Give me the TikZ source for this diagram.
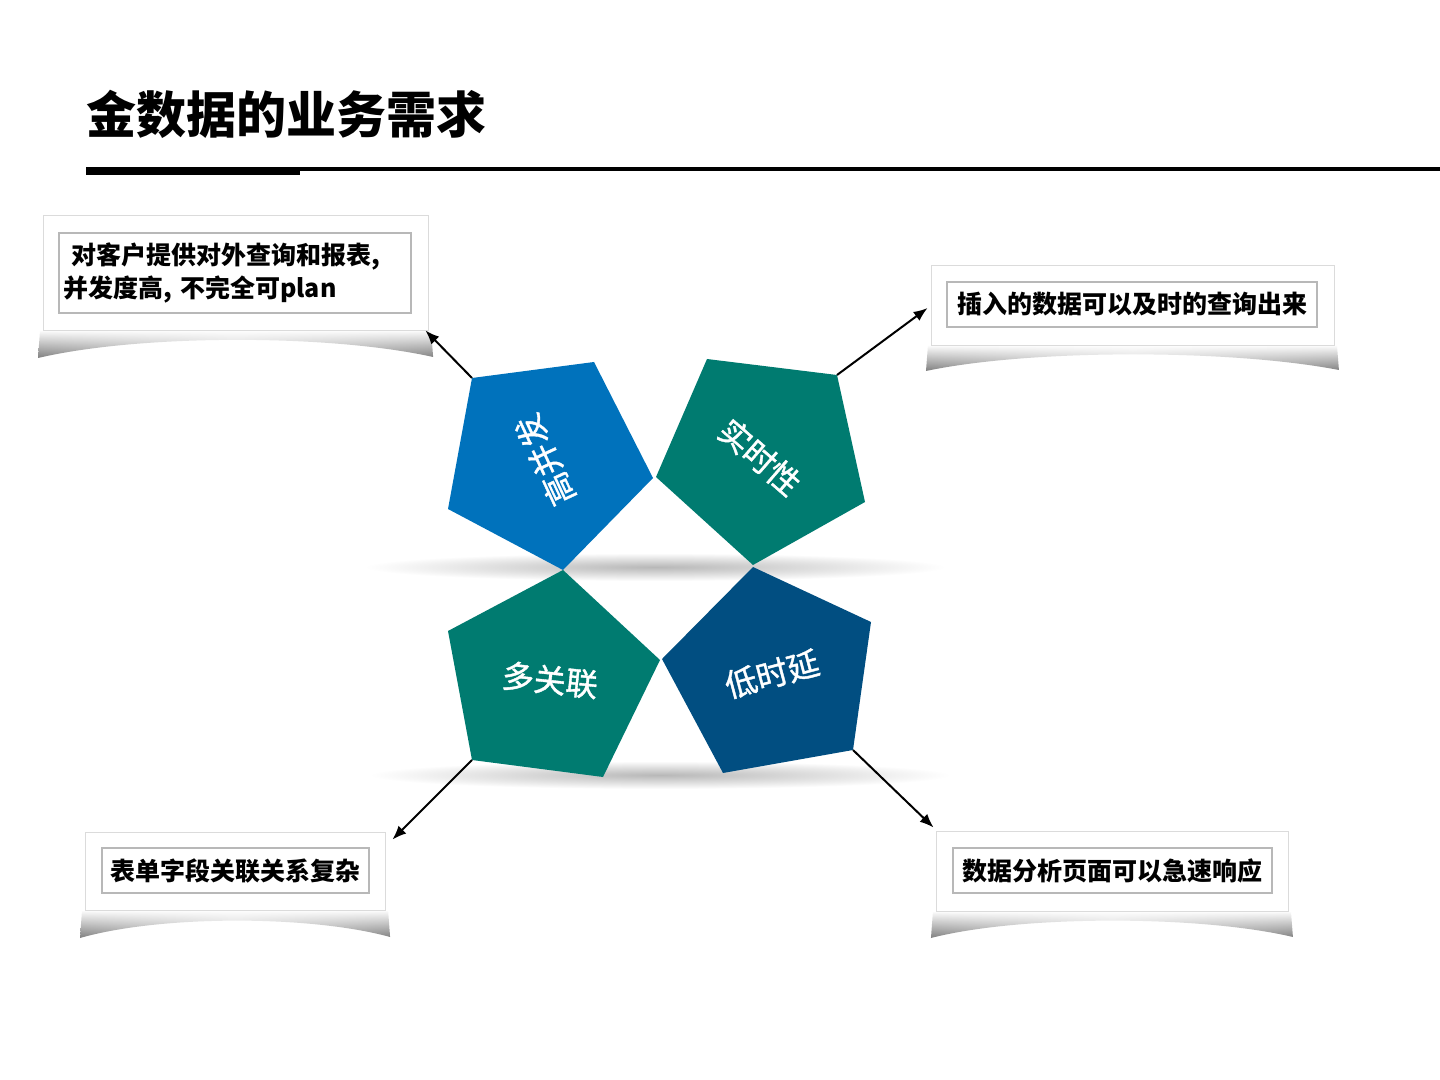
\documentclass[tikz,border=0pt]{standalone}
\usepackage{fontspec}
\newfontfamily\cjk{Noto Sans CJK SC}
\newfontfamily\cjkpent{Noto Sans CJK SC}[FakeBold=1.2]
\usetikzlibrary{arrows.meta,fadings}

\definecolor{gaoblue}{RGB}{0,114,188}
\definecolor{qingteal}{RGB}{0,123,112}
\definecolor{shenblue}{RGB}{1,78,129}

\tikzset{
  card/.style={draw=black!14, fill=white, inner sep=0pt},
  inbox/.style={draw=black!28, fill=white, line width=0.6pt, inner sep=0pt,
    font=\cjk\bfseries\fontsize{12.5}{16.5}\selectfont},
  penttext/.style={text=white, inner sep=0pt, font=\cjkpent\fontsize{16}{19}\selectfont},
  pointer/.style={-{Latex[length=7pt,width=5.5pt]}, line width=1pt},
  curl/.style={left color=black!50, right color=black!50, middle color=black!22, path fading=north},
}

\begin{document}
\begin{tikzpicture}[x=0.5pt, y=-0.5pt]
    \useasboundingbox (0,0) rectangle (1440,1080);
    \fill[white] (0,0) rectangle (1440,1080);
    % titre
    \node[anchor=base west, inner sep=0pt, font=\cjk\bfseries\fontsize{25}{30}\selectfont] (biaoti) at (86,134) {金数据的业务需求};
    \fill (86,167) rectangle (300,175);
    \fill (300,167) rectangle (1440,171);
    % ombres sous les pentagones
    \shade[inner color=black!28, outer color=white] (655,567) ellipse [x radius=145pt, y radius=7pt];
    \shade[inner color=black!28, outer color=white] (660,775) ellipse [x radius=145pt, y radius=7pt];
    % pentagones
    \fill[gaoblue] (472,378) coordinate (g1) -- (594,362) -- (653,478) -- (563,570) -- (448,509) -- cycle;
    \fill[qingteal] (707,359) -- (837,375) coordinate (s2) -- (865,502) -- (753,565) -- (656,477) -- cycle;
    \fill[qingteal] (563,570) -- (660,660) -- (603,777) -- (472,760) coordinate (d4) -- (448,631) -- cycle;
    \fill[shenblue] (753,567) -- (871,622) -- (853,750) coordinate (y3) -- (723,773) -- (662,659) -- cycle;
    \node[penttext, rotate=115] (gbf) at (545,460) {高并发};
    \node[penttext, rotate=-41] (ssx) at (760,457) {实时性};
    \node[penttext, rotate=-6] (dgl) at (550,680) {多关联};
    \node[penttext, rotate=15] (dsy) at (772,674) {低时延};
    % cartes : ombres
    \shade[curl] (40,330) -- (431,330) -- (433,357) .. controls (330,334) and (140,334) .. (38,358) -- cycle;
    \shade[curl] (928,345) -- (1337,345) -- (1339,370) .. controls (1230,349) and (1030,349) .. (926,371) -- cycle;
    \shade[curl] (82,910) -- (388,910) -- (390,937) .. controls (310,915) and (160,915) .. (80,938) -- cycle;
    \shade[curl] (933,911) -- (1291,911) -- (1293,937) .. controls (1200,915) and (1020,915) .. (931,938) -- cycle;
    % cartes
    \node[card, minimum width=192.5pt, minimum height=57.5pt] (ka) at (235.5,272.5) {};
    \node[inbox, minimum width=176pt, minimum height=40pt, text width=172pt, align=left] (ta) at (235,273)
      {\ 对客户提供对外查询和报表,\\并发度高, 不完全可plan};
    \node[card, minimum width=201.5pt, minimum height=40pt] (kb) at (1132.5,305) {};
    \node[inbox, minimum width=185pt, minimum height=22.5pt] (tb) at (1132,304.5) {插入的数据可以及时的查询出来};
    \node[card, minimum width=150pt, minimum height=39pt] (kc) at (235,871) {};
    \node[inbox, minimum width=133.5pt, minimum height=22.5pt] (tc) at (235.5,870.5) {表单字段关联关系复杂};
    \node[card, minimum width=176pt, minimum height=40pt] (kd) at (1112,871) {};
    \node[inbox, minimum width=159.5pt, minimum height=22.5pt] (td) at (1112.5,870.5) {数据分析页面可以急速响应};
    % fleches
    \draw[pointer] (g1) -- ([shift={(-3,0)}]ka.south east);
    \draw[pointer] (s2) -- ([shift={(-3,3)}]kb.west);
    \draw[pointer] (d4) -- ([shift={(7,8)}]kc.north east);
    \draw[pointer] (y3) -- ([shift={(-2,-3)}]kd.north west);
\end{tikzpicture}
\end{document}
